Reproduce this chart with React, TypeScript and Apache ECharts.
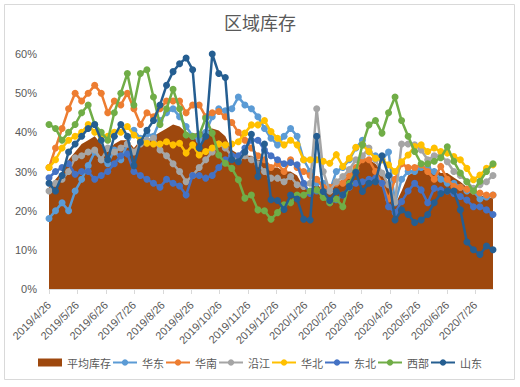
import React, { useEffect, useRef } from 'react';
import * as echarts from 'echarts';

// Weekly observations starting 2019/4/26 (one value per week)
const seriesNames = ['平均库存', '华东', '华南', '沿江', '华北', '东北', '西部', '山东'];
const seriesColors = ['#9E480E', '#5B9BD5', '#ED7D31', '#A5A5A5', '#FFC000', '#4472C4', '#70AD47', '#255E91'];

const avgStock = [26, 28, 30, 33, 35, 37, 38, 39, 37, 35, 37, 38, 38, 36, 38, 38, 39, 40, 41, 42, 41.5, 40, 39.5, 40, 40.5, 41, 40.5, 39, 35.5, 34.5, 34, 34, 33, 33, 31, 31, 30, 30, 29, 26, 25, 27, 25, 26, 27, 28, 29, 31, 33, 33, 32, 30, 27, 21.5, 25, 29, 30, 30.8, 30, 30.8, 29.6, 29.6, 28.5, 27.4, 26, 25, 24, 23.5, 23.2];
const huadong = [18, 20, 22, 20, 25, 28, 31.5, 35, 33, 32, 35.5, 33, 37, 40.5, 38.5, 39.5, 39, 43, 45, 46, 44, 41.5, 39, 38, 40, 44, 46, 45.5, 46, 49, 47, 46, 44, 41, 38.5, 36.8, 39, 41, 39, 33, 30, 27, 27, 25, 30, 31, 33, 36, 38, 35, 34, 33, 35, 22, 28, 30, 30, 31, 31, 30, 28, 27, 27, 26, 25, 25, 23, 23.5, 24];
const huanan = [31, 36, 41, 46, 50, 48, 50, 52, 50, 45, 48, 47, 50, 46, 42, 45, 44, 46, 48, 48, 48, 45, 47, 47, 44, 45, 45.3, 44, 42.5, 40, 38, 36, 34, 33, 31, 32, 30, 33, 31, 30, 29, 28, 26, 26, 27, 27, 29, 31, 33, 33, 30, 27, 23, 28, 32, 31, 31, 31.7, 30, 28, 31.3, 28, 26.2, 26, 25.5, 25, 24.5, 24, 24];
const yanjiang = [25, 27, 28, 30, 33.5, 34, 35, 35.5, 33, 36, 35, 36, 37, 35, 37, 38, 38.5, 35.5, 34, 32, 30, 27.4, 29, 31, 33, 35, 37, 36, 34, 33, 34, 33, 32, 30, 28.3, 28.3, 27.4, 28.7, 26.6, 26.2, 27, 46, 30, 25, 27.4, 28.7, 30.5, 33, 34, 36, 33, 29.6, 26.6, 22.3, 37, 37, 36.8, 35.5, 33, 34, 34, 32.5, 30, 29, 27.4, 25.7, 26.6, 27.4, 29];
const huabei = [31, 33, 36, 38, 39, 40, 42, 40, 39, 39, 40, 40, 41.5, 39.3, 38, 37.2, 37, 37, 37.6, 36.8, 37.2, 34.7, 36.8, 34.2, 35.1, 36, 37, 36.8, 37, 37.6, 39.8, 41.9, 41.9, 43, 40.2, 38.5, 36.8, 38, 36.8, 33, 33, 33, 32.6, 32.1, 34.3, 31.3, 33.4, 36.2, 36.8, 35.1, 33.4, 33, 31.7, 30, 32.5, 34.2, 36.4, 36.8, 35.1, 36, 35.1, 34.7, 33.8, 33, 30.8, 27.9, 29.1, 30.8, 31.7];
const dongbei = [28.4, 30, 31, 32, 29.3, 30, 30, 28, 29, 30, 32, 34, 34.5, 30, 29, 28, 27, 26, 28, 27, 26.3, 24, 29, 29, 28.3, 29, 31, 33, 34, 34, 36, 38, 38, 35.5, 34, 33, 32, 32.3, 31.7, 27, 24.4, 25, 24, 22, 22.8, 24, 26, 27, 27.4, 28, 28.3, 27, 21, 19.5, 22.3, 25, 27, 25.3, 22, 25.7, 25.3, 25, 24.4, 23.6, 22.7, 21, 21, 20.2, 19];
const xibu = [42, 41, 38, 40, 42, 45, 47, 42, 40, 38, 45, 50, 55, 47, 55, 56, 49, 42, 46, 51, 46, 39.3, 39, 39.3, 43.6, 39.8, 34.2, 32.1, 30.8, 27.9, 23.2, 24, 20.2, 20, 17.8, 19.5, 21.5, 22, 24, 24, 25, 25.3, 23.4, 22, 23, 21, 27, 30, 36.8, 41.9, 43, 39.8, 45, 49, 43, 39, 35.1, 32, 32, 32.6, 33.5, 36.3, 32.6, 29.6, 27.4, 25, 27.5, 30, 32];
const shandong = [27, 25, 29, 35, 37, 39, 41, 42, 38, 33, 39, 42, 39, 31.5, 37.5, 40.5, 43, 47, 52, 55.5, 57.5, 59, 56, 36, 39, 60, 55, 54, 33, 32.5, 35, 39.5, 28.7, 37, 22.8, 22.6, 20.3, 24, 23, 17.8, 17.6, 39, 24.9, 22.6, 24.9, 24, 26.2, 29.8, 24.9, 27, 27.4, 34, 29, 17.6, 20.2, 19, 17, 17.6, 19, 22, 24.4, 25, 25, 20.2, 12, 10, 8.8, 11, 10];

const tickLabels = ['2019/4/26', '2019/5/26', '2019/6/26', '2019/7/26', '2019/8/26', '2019/9/26', '2019/10/26', '2019/11/26', '2019/12/26', '2020/1/26', '2020/2/26', '2020/3/26', '2020/4/26', '2020/5/26', '2020/6/26', '2020/7/26'];
const yTicks = [0, 10, 20, 30, 40, 50, 60];

const allSeries = [avgStock, huadong, huanan, yanjiang, huabei, dongbei, xibu, shandong];

function dayOffset(label: string): number {
  const [y, m, d] = label.split('/').map(Number);
  return (Date.UTC(y, m - 1, d) - Date.UTC(2019, 3, 26)) / 86400000;
}

const tickDays = tickLabels.map(dayOffset);
const weekDays = avgStock.map((_, i) => i * 7);

const FONT = '"Liberation Sans", "Noto Sans CJK SC", sans-serif';
const CJK = '"Noto Sans CJK SC", "Liberation Sans", sans-serif';

export default function App() {
  const ref = useRef<HTMLDivElement>(null);
  useEffect(() => {
    if (!ref.current) return;
    const chart = echarts.init(ref.current, null, { renderer: 'svg' });
    const series: any[] = allSeries.map((arr, si) => {
      const data = arr.map((v, i) => [weekDays[i], v]);
      if (si === 0) {
        return {
          name: seriesNames[0],
          type: 'line',
          data,
          symbol: 'none',
          lineStyle: { width: 0 },
          itemStyle: { color: seriesColors[0] },
          areaStyle: { color: seriesColors[0], opacity: 1 },
          z: 1,
        };
      }
      return {
        name: seriesNames[si],
        type: 'line',
        data,
        symbol: 'circle',
        symbolSize: 7,
        lineStyle: { width: 2.5, color: seriesColors[si] },
        itemStyle: { color: seriesColors[si] },
        z: 2 + si,
      };
    });
    chart.setOption({
      animation: false,
      backgroundColor: '#FFFFFF',
      title: {
        text: '区域库存',
        left: 'center',
        top: 8,
        textStyle: { color: '#595959', fontSize: 18, fontWeight: 'normal', fontFamily: CJK },
      },
      grid: { left: 49, right: 27, top: 54, bottom: 98 },
      legend: {
        top: 352,
        left: 'center',
        itemWidth: 24,
        itemHeight: 8,
        itemGap: 1,
        textStyle: { color: '#595959', fontSize: 11, fontFamily: CJK },
        data: seriesNames.map((n, i) => (i === 0 ? { name: n, icon: 'rect' } : { name: n })),
      },
      xAxis: {
        type: 'value',
        min: 0,
        max: weekDays[weekDays.length - 1],
        axisLine: { show: true, lineStyle: { color: '#D9D9D9', width: 1 } },
        axisTick: { show: true, customValues: tickDays, length: 5, lineStyle: { color: '#D9D9D9' } },
        axisLabel: {
          customValues: tickDays,
          rotate: 45,
          margin: 14,
          color: '#595959',
          fontSize: 11,
          fontFamily: FONT,
          formatter: (v: number) => {
            const idx = tickDays.findIndex((d) => Math.abs(d - v) < 0.5);
            return idx >= 0 ? tickLabels[idx] : '';
          },
        },
        splitLine: { show: false },
      },
      yAxis: {
        type: 'value',
        min: yTicks[0],
        max: yTicks[yTicks.length - 1],
        interval: 10,
        axisLine: { show: false },
        axisTick: { show: false },
        splitLine: { show: false },
        axisLabel: { formatter: '{value}%', color: '#595959', fontSize: 11, margin: 12, fontFamily: FONT },
      },
      graphic: [
        {
          type: 'rect',
          shape: { x: 4.5, y: 4.5, width: 510, height: 375 },
          style: { fill: 'none', stroke: '#D9D9D9', lineWidth: 1 },
          silent: true,
        },
      ],
      series,
    });
    return () => chart.dispose();
  }, []);
  return (
    <div
      ref={ref}
      style={{ position: 'absolute', left: 0, top: 0, width: 520, height: 387, background: '#fff' }}
    />
  );
}
